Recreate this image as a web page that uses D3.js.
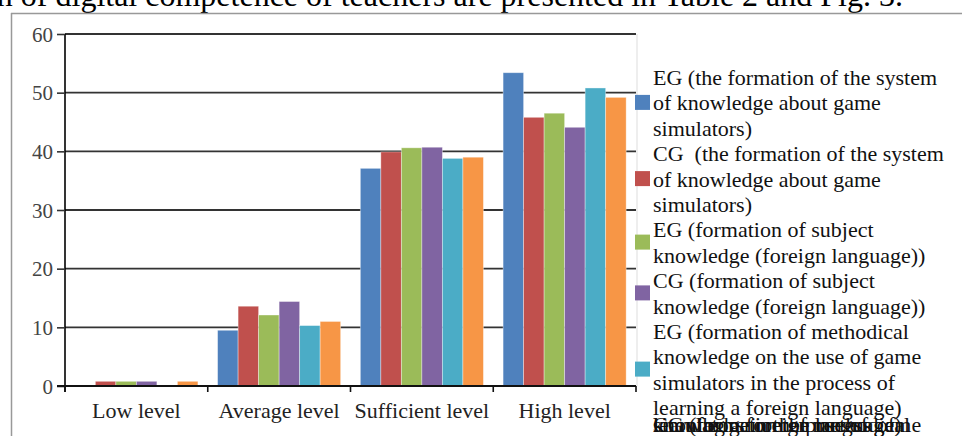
<!DOCTYPE html>
<html><head><meta charset="utf-8">
<script src="https://cdn.jsdelivr.net/npm/d3@7"></script>
<style>html,body{margin:0;padding:0;background:#fff;overflow:hidden}svg{display:block}text{white-space:pre}</style>
</head><body>
<svg id="c" width="962" height="436"></svg>
<script>
const categories = ["Low level", "Average level", "Sufficient level", "High level"];
const seriesNames = [
  "EG (the formation of the system\nof knowledge about game\nsimulators)",
  "CG  (the formation of the system\nof knowledge about game\nsimulators)",
  "EG (formation of subject\nknowledge (foreign language))",
  "CG (formation of subject\nknowledge (foreign language))",
  "EG (formation of methodical\nknowledge on the use of game\nsimulators in the process of\nlearning a foreign language)",
  "CG (formation of methodical\nknowledge on the use of game\nsimulators in the process of\nlearning a foreign language)"
];
const seriesColors = ["#4F81BD", "#C0504D", "#9BBB59", "#8064A2", "#4BACC6", "#F79646"];
const egSystem    = [0,   9.5, 37.1, 53.4];
const cgSystem    = [0.8, 13.6, 39.9, 45.8];
const egSubject   = [0.8, 12.1, 40.6, 46.5];
const cgSubject   = [0.8, 14.4, 40.7, 44.1];
const egMethod    = [0,   10.3, 38.8, 50.8];
const cgMethod    = [0.8, 11.0, 39.0, 49.2];
const seriesValues = [egSystem, cgSystem, egSubject, cgSubject, egMethod, cgMethod];
const yTicks = [0, 10, 20, 30, 40, 50, 60];
const captionText = "formation of digital competence of teachers are presented in Table 2 and Fig. 3.";

const svg = d3.select("#c");
const serif = "'Liberation Serif','Times New Roman',serif";

// caption text above chart (clipped at top, as in the reference)
svg.append("text").attr("x", 903).attr("y", 6).attr("text-anchor", "end")
  .attr("font-family", serif).attr("font-size", 32).attr("fill", "#000").text(captionText);

// chart frame
svg.append("line").attr("x1", 11).attr("x2", 962).attr("y1", 13.5).attr("y2", 13.5).attr("stroke", "#999").attr("stroke-width", 1.5);
svg.append("line").attr("x1", 11.5).attr("x2", 11.5).attr("y1", 13).attr("y2", 436).attr("stroke", "#999").attr("stroke-width", 1.5);

const L = 65, R = 636, T = 34, B = 386;
const x0 = d3.scaleBand().domain(categories).range([L, R]).padding(0);
const x1 = d3.scaleBand().domain(d3.range(seriesNames.length)).range([0, x0.bandwidth()]).paddingInner(0).paddingOuter(0.48);
const y = d3.scaleLinear().domain([0, 60]).range([B, T]);

// plot right light border
svg.append("line").attr("x1", R + 1).attr("x2", R + 1).attr("y1", T).attr("y2", B).attr("stroke", "#ddd").attr("stroke-width", 1);

// gridlines
svg.append("g").selectAll("line").data(yTicks.filter(d => d > 0)).join("line")
  .attr("x1", L).attr("x2", R).attr("y1", d => y(d)).attr("y2", d => y(d))
  .attr("stroke", "#333").attr("stroke-width", 1.8);

// bars
const groups = svg.append("g").selectAll("g").data(categories).join("g")
  .attr("transform", c => `translate(${x0(c)},0)`);
groups.selectAll("rect").data((c, ci) => seriesValues.map((vals, si) => ({si, v: vals[ci]}))).join("rect")
  .attr("x", d => x1(d.si)).attr("width", x1.bandwidth())
  .attr("y", d => y(d.v)).attr("height", d => y(0) - y(d.v))
  .attr("fill", d => seriesColors[d.si])
  .attr("stroke", "rgba(255,255,255,0.45)").attr("stroke-width", 0.8);

// y axis
const yAxis = svg.append("g").attr("transform", `translate(${L},0)`)
  .call(d3.axisLeft(y).tickValues(yTicks).tickSize(8).tickPadding(4).tickFormat(d3.format("d")));
yAxis.select(".domain").attr("d", `M0,${T}V${B + 6}`).attr("stroke", "#000").attr("stroke-width", 1.6);
yAxis.selectAll(".tick line").attr("stroke", "#333").attr("stroke-width", 1.6);
yAxis.selectAll(".tick text").attr("font-family", serif).attr("font-size", 21).attr("fill", "#444").attr("dy", "0.34em");

// x axis
const xAxis = svg.append("g").attr("transform", `translate(0,${B})`)
  .call(d3.axisBottom(x0).tickSize(0).tickPadding(0));
xAxis.select(".domain").attr("d", `M${L - 8},0H${R}`).attr("stroke", "#111").attr("stroke-width", 1.8);
xAxis.selectAll(".tick text").attr("font-family", serif).attr("font-size", 22).attr("fill", "#222").attr("y", 32).attr("dy", 0);
xAxis.selectAll(".sep").data(categories.map(c => x0(c)).concat([R])).join("line").attr("class", "sep")
  .attr("x1", d => d).attr("x2", d => d).attr("y1", 0).attr("y2", 6).attr("stroke", "#111").attr("stroke-width", 1.6);

// legend
const lg = svg.append("g");
const lineH = 25.4, firstBase = 85, textX = 653, legendFont = 22;
let k = 0;
seriesNames.forEach((name, si) => {
  const lines = name.split("\n");
  if (si === seriesNames.length - 1) {
    // last entry collapsed onto one overlapping line, as in the reference
    lines.forEach(t => {
      lg.append("text").attr("x", textX).attr("y", 432).attr("font-family", serif).attr("font-size", legendFont).attr("fill", "#111").text(t);
    });
    return;
  }
  const bases = lines.map((t, i) => firstBase + lineH * (k + i));
  lines.forEach((t, i) => {
    lg.append("text").attr("x", textX).attr("y", bases[i]).attr("font-family", serif).attr("font-size", legendFont).attr("fill", "#111").text(t);
  });
  const cy = d3.mean(bases) - 8;
  lg.append("rect").attr("x", 635).attr("y", cy - 7.5).attr("width", 15).attr("height", 15).attr("fill", seriesColors[si]);
  k += lines.length;
});
</script>
</body></html>
